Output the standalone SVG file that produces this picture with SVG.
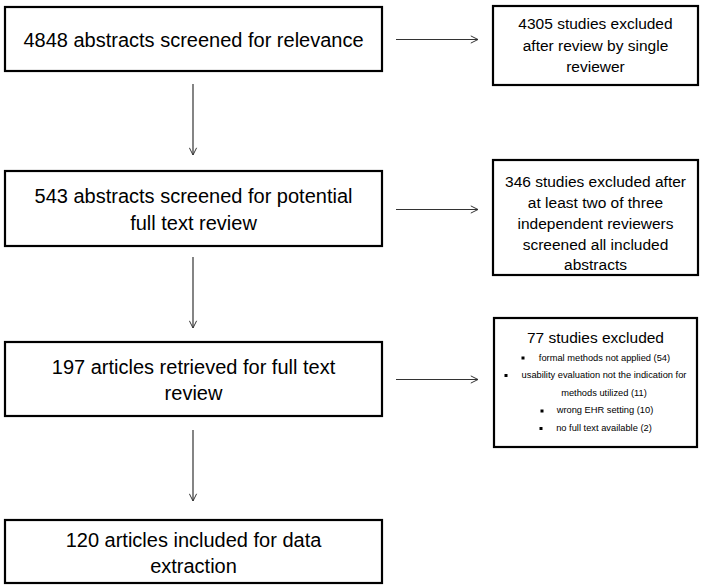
<svg xmlns="http://www.w3.org/2000/svg" width="702" height="588" viewBox="0 0 702 588">
<defs>
<marker id="arr" viewBox="0 0 10 10" refX="9" refY="5" markerWidth="9" markerHeight="9" markerUnits="userSpaceOnUse" orient="auto">
<path d="M1,1 L9,5 L1,9" fill="none" stroke="#333" stroke-width="1.1"/>
</marker>
<style>
.box{fill:#fff;stroke:#000;stroke-width:2.2}
.t{font-family:"Liberation Sans",Arial,sans-serif;fill:#000;text-anchor:middle}
.big{font-size:20px}
.mid{font-size:15.5px}
.sm{font-size:9.3px}
.c{stroke:#333;stroke-width:1.2;fill:none;marker-end:url(#arr)}
.b{fill:#000}
</style>
</defs>
<rect width="702" height="588" fill="#fff"/>
<g id="connectors">
<line class="c" x1="193" y1="84" x2="193" y2="155"/>
<line class="c" x1="193" y1="257" x2="193" y2="328"/>
<line class="c" x1="193" y1="430" x2="193" y2="501"/>
<line class="c" x1="396" y1="39.5" x2="478" y2="39.5"/>
<line class="c" x1="396" y1="209.5" x2="478" y2="209.5"/>
<line class="c" x1="396" y1="379.5" x2="478" y2="379.5"/>
</g>
<g id="n1">
<rect class="box" x="5" y="7" width="377" height="64"/>
<text class="t big" x="193.5" y="47">4848 abstracts screened for relevance</text>
</g>
<g id="n2">
<rect class="box" x="5" y="171" width="377" height="75"/>
<text class="t big" x="193.5" y="203">543 abstracts screened for potential</text>
<text class="t big" x="193.5" y="230">full text review</text>
</g>
<g id="n3">
<rect class="box" x="5" y="342" width="377" height="74"/>
<text class="t big" x="193.5" y="374">197 articles retrieved for full text</text>
<text class="t big" x="193.5" y="400">review</text>
</g>
<g id="n4">
<rect class="box" x="5" y="520" width="377" height="63"/>
<text class="t big" x="193.5" y="547">120 articles included for data</text>
<text class="t big" x="193.5" y="573">extraction</text>
</g>
<g id="e1">
<rect class="box" x="493" y="6" width="205" height="79"/>
<text class="t mid" x="595.5" y="29">4305 studies excluded</text>
<text class="t mid" x="595.5" y="50.5">after review by single</text>
<text class="t mid" x="595.5" y="72">reviewer</text>
</g>
<g id="e2">
<rect class="box" x="493" y="160" width="205" height="115"/>
<text class="t mid" x="595.5" y="187">346 studies excluded after</text>
<text class="t mid" x="595.5" y="208">at least two of three</text>
<text class="t mid" x="595.5" y="229">independent reviewers</text>
<text class="t mid" x="595.5" y="250">screened all included</text>
<text class="t mid" x="595.5" y="270">abstracts</text>
</g>
<g id="e3">
<rect class="box" x="494" y="318" width="203" height="129"/>
<text class="t mid" x="595.5" y="343">77 studies excluded</text>
<rect class="b" x="521.5" y="356.5" width="3" height="3"/>
<text class="t sm" x="604.5" y="361">formal methods not applied (54)</text>
<rect class="b" x="504.5" y="374" width="3" height="3"/>
<text class="t sm" x="604" y="378">usability evaluation not the indication for</text>
<text class="t sm" x="604" y="396">methods utilized (11)</text>
<rect class="b" x="540.5" y="409.5" width="3" height="3"/>
<text class="t sm" x="605" y="413">wrong EHR setting (10)</text>
<rect class="b" x="539.5" y="427" width="3" height="3"/>
<text class="t sm" x="604" y="431">no full text available (2)</text>
</g>
</svg>
